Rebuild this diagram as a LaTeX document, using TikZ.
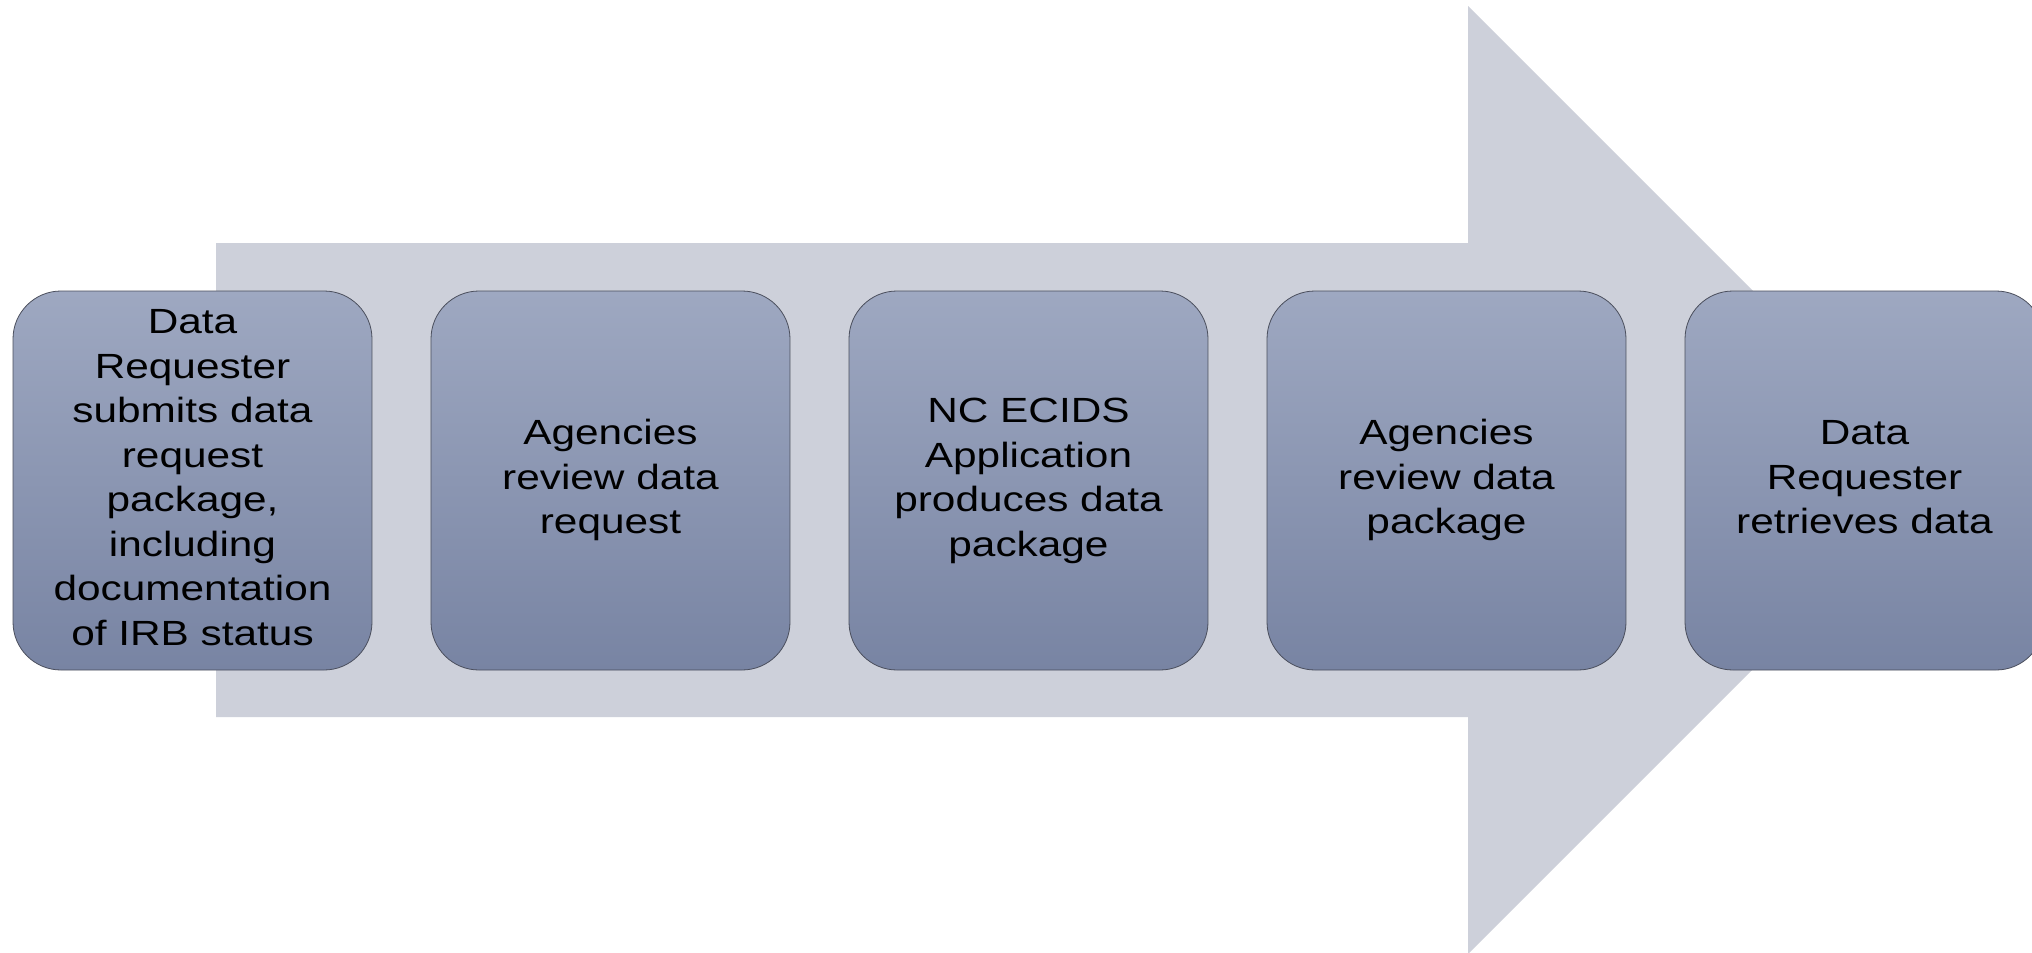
\documentclass[tikz,border=0pt]{standalone}
\usepackage{fontspec}
\usepackage{graphicx}
\setmainfont{Liberation Sans}
\definecolor{arrowgray}{HTML}{CDD0DA}
\definecolor{boxtop}{HTML}{9EA8C1}
\definecolor{boxbot}{HTML}{7884A3}
\definecolor{boxedge}{HTML}{4A4E5C}
\newcommand{\stepTxt}[1]{\scalebox{1.21}[1]{\begin{tabular}{@{}c@{}}#1\end{tabular}}}
\begin{document}
\begin{tikzpicture}[x=1pt,y=-1pt,
  stepbox/.style={rectangle, rounded corners=48pt, draw=boxedge, line width=0.8pt,
    top color=boxtop, bottom color=boxbot, minimum width=359pt, minimum height=379pt,
    inner sep=0pt, align=center, text=black, font=\fontsize{35}{44.5}\selectfont}]
\useasboundingbox (0,0) rectangle (2032,953);
\clip (0,0) rectangle (2032,953);
\fill[white] (0,0) rectangle (2032,953);
\fill[arrowgray] (216,243) -- (1468,243) -- (1468,6) -- (1942,480) -- (1468,954)
  -- (1468,717) -- (216,717) -- cycle;
\node[stepbox] (s1) at (192.5,480.5) {\stepTxt{Data\\Requester\\submits data\\request\\package,\\including\\documentation\\of IRB status}};
\node[stepbox] (s2) at (610.5,480.5) {\stepTxt{Agencies\\review data\\request}};
\node[stepbox] (s3) at (1028.5,480.5) {\stepTxt{NC ECIDS\\Application\\produces data\\package}};
\node[stepbox] (s4) at (1446.5,480.5) {\stepTxt{Agencies\\review data\\package}};
\node[stepbox] (s5) at (1864.5,480.5) {\stepTxt{Data\\Requester\\retrieves data}};
\end{tikzpicture}
\end{document}
